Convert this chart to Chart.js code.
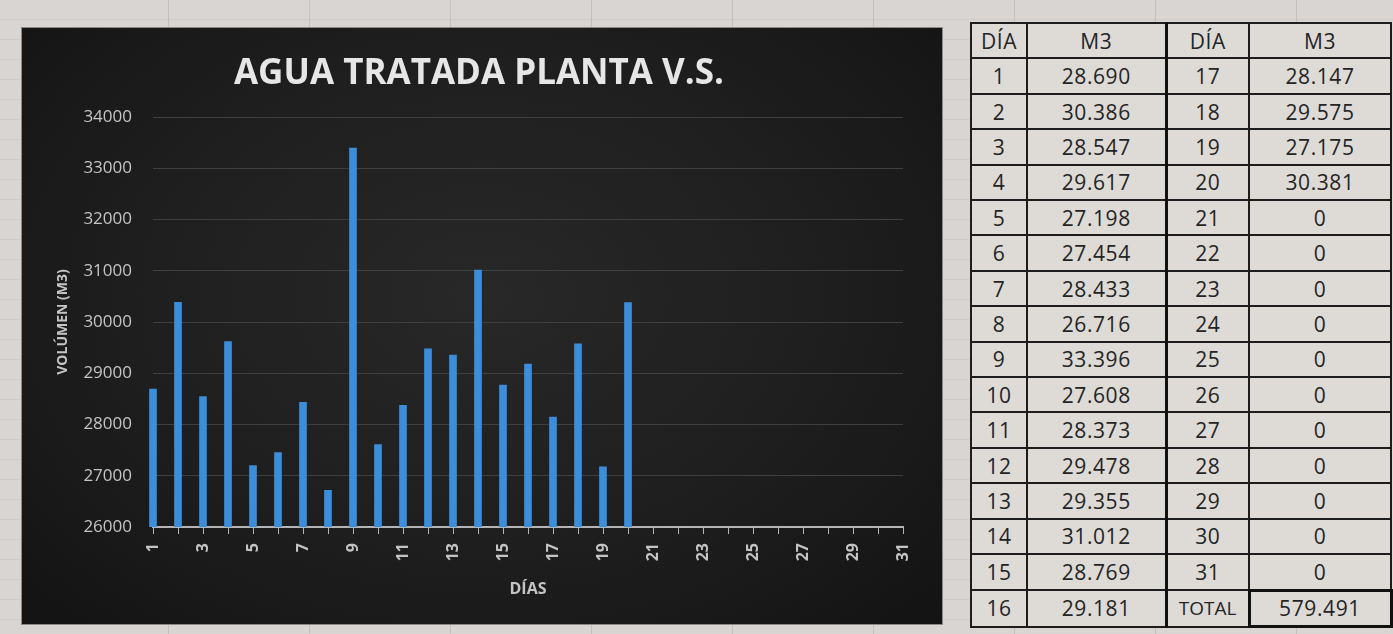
<!DOCTYPE html>
<html>
<head>
<meta charset="utf-8">
<script src="https://cdn.jsdelivr.net/npm/chart.js@4.4.1/dist/chart.umd.min.js"></script>
<style>
  html, body { margin: 0; padding: 0; }
  body {
    width: 1393px; height: 634px; position: relative; overflow: hidden;
    background-color: #d8d5d2;
    background-image:
      repeating-linear-gradient(90deg, transparent 0, transparent 140px, #c3c0bd 140px, #c3c0bd 141px),
      repeating-linear-gradient(0deg, transparent 0, transparent 19px, #cfccc9 19px, #cfccc9 20px);
    background-position: 28px 0, 0 5px;
    font-family: "Open Sans", sans-serif;
  }
  #caja {
    position: absolute; left: 22px; top: 28px; width: 920px; height: 596px;
    background: radial-gradient(ellipse at 50% 45%, #282828 0%, #1e1e1e 55%, #131313 100%);
    box-shadow: 0 0 0 1px #8a8a8a;
  }
  #tabla {
    position: absolute; left: 970px; top: 22px; width: 420px; height: 606px;
    border-collapse: collapse; table-layout: fixed;
    background: #dedbd7; color: #242424;
  }
  #tabla td {
    border: 2px solid #1d1d1d; text-align: center; padding: 0;
    font-size: 21px; letter-spacing: 0.6px; height: 33px;
  }
  #tabla td.sep { border-right: 3px solid #111; }
  #tabla td.tot { border: 3px solid #111; }
</style>
</head>
<body>
<div id="caja"><canvas id="grafico"></canvas></div>
<table id="tabla">
  <colgroup><col style="width:56px"><col style="width:139px"><col style="width:83px"><col style="width:142px"></colgroup>
  <tbody id="cuerpo"></tbody>
</table>
<script>
// Datos: volumen de agua tratada por día (m3)
const dias = ['1','2','3','4','5','6','7','8','9','10','11','12','13','14','15','16',
  '17','18','19','20','21','22','23','24','25','26','27','28','29','30','31'];
const volumen = [28690, 30386, 28547, 29617, 27198, 27454, 28433, 26716, 33396, 27608,
  28373, 29478, 29355, 31012, 28769, 29181, 28147, 29575, 27175, 30381,
  0, 0, 0, 0, 0, 0, 0, 0, 0, 0, 0];
const ticksY = [26000, 27000, 28000, 29000, 30000, 31000, 32000, 33000, 34000];

// formato con punto de miles
function miles(v) {
  const s = String(v);
  return s.replace(/\B(?=(\d{3})+(?!\d))/g, '.');
}

// tabla de la derecha
const cuerpo = document.getElementById('cuerpo');
let filas = '<tr><td>DÍA</td><td class="sep">M3</td><td>DÍA</td><td>M3</td></tr>';
const total = volumen.reduce((a, b) => a + b, 0);
for (let i = 0; i < 16; i++) {
  const j = i + 16;
  const d2 = j < 31 ? dias[j] : 'TOTAL';
  const v2 = j < 31 ? miles(volumen[j]) : miles(total);
  filas += '<tr><td>' + dias[i] + '</td><td class="sep">' + miles(volumen[i]) + '</td>' +
    '<td' + (j < 31 ? '' : ' style="font-size:19px;letter-spacing:0"') + '>' + d2 + '</td>' +
    '<td' + (j < 31 ? '' : ' class="tot"') + '>' + v2 + '</td></tr>';
}
cuerpo.innerHTML = filas;

// gráfico
new Chart(document.getElementById('grafico'), {
  type: 'bar',
  data: {
    labels: dias,
    datasets: [{
      label: 'M3',
      data: volumen,
      backgroundColor: '#3c8edb',
      barThickness: 7,
      clip: { left: 6, right: 6, top: 0, bottom: 0 }
    }]
  },
  options: {
    responsive: true,
    maintainAspectRatio: false,
    animation: false,
    layout: { padding: { left: 33, right: 39, top: 0, bottom: 0 } },
    plugins: {
      legend: { display: false },
      tooltip: { enabled: false },
      title: {
        display: true,
        text: 'AGUA TRATADA PLANTA V.S.',
        color: '#e6e6e6',
        font: { family: 'Open Sans', size: 35, weight: 'bold' },
        padding: { top: 25, bottom: 22 }
      }
    },
    scales: {
      x: {
        offset: false,
        grid: { display: true, drawOnChartArea: false, drawTicks: true, tickLength: 7, color: '#b5b5b5', offset: false },
        border: { display: true, color: '#b5b5b5', width: 2 },
        ticks: {
          autoSkip: false,
          minRotation: 90,
          maxRotation: 90,
          padding: 9,
          color: '#c4c4c4',
          font: { family: 'Open Sans', size: 16, weight: 'bold' },
          callback: function(val, idx) { return idx % 2 === 0 ? dias[idx] : ''; }
        },
        title: {
          display: true, text: 'DÍAS', color: '#c4c4c4',
          font: { family: 'Open Sans', size: 16, weight: 'bold' },
          padding: { top: 0, bottom: 25 }
        },
        afterFit: function(s) { s.height = 97; }
      },
      y: {
        min: ticksY[0],
        max: ticksY[ticksY.length - 1],
        grid: { color: '#3f3f3f', drawTicks: false },
        border: { display: false },
        afterBuildTicks: function(s) { s.ticks = ticksY.map(v => ({ value: v })); },
        ticks: {
          padding: 21,
          color: '#c4c4c4',
          font: { family: 'Open Sans', size: 17 },
          callback: function(v) { return String(v); }
        },
        title: {
          display: true, text: 'VOLÚMEN (M3)', color: '#c4c4c4',
          font: { family: 'Open Sans', size: 14, weight: 'bold' },
          padding: { top: 0, bottom: 0 }
        },
        afterFit: function(s) { s.width = 98; }
      }
    }
  }
});
</script>
</body>
</html>
